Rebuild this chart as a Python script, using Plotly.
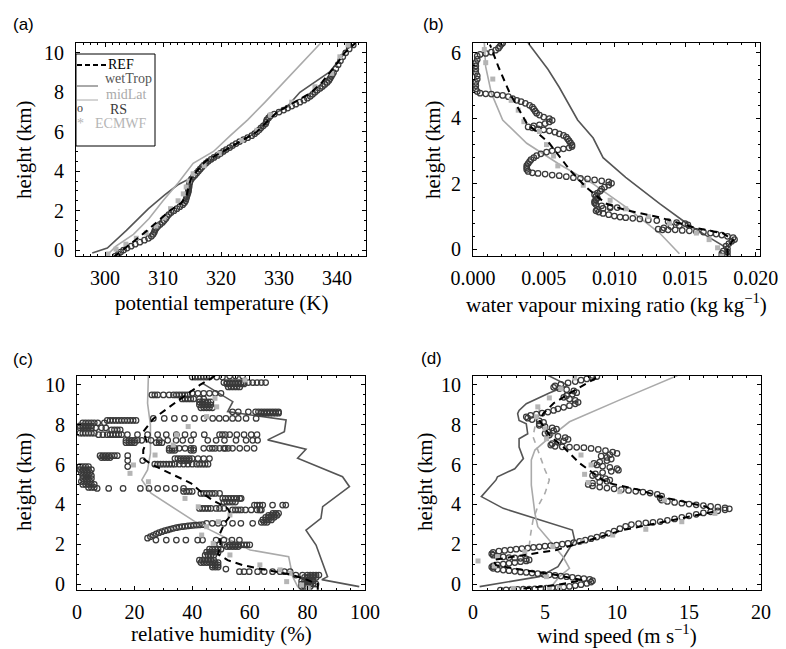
import plotly.graph_objects as go

# the page body has an 8 px margin, so the figure is drawn 8 px in from the window corner
OFF = 8
W, H = 786 - OFF, 649 - OFF


def X(px):
    return (px - OFF) / W


def Y(py):
    return 1 - (py - OFF) / H


# ---------------- panel (a): potential temperature ----------------
REF_a_h = [-0.35, 0.0, 0.5, 1.0, 1.5, 2.0, 2.4, 2.8, 3.2, 3.6, 4.0, 4.5, 5.0, 5.5, 6.0, 6.5, 7.0, 7.5, 8.0, 8.5, 9.0, 9.5, 10.0, 10.5]
REF_a_K = [301.5, 303.1, 305.2, 307.3, 309.3, 311.2, 313.2, 314.1, 314.4, 314.8, 315.8, 317.3, 320.3, 323.2, 326.2, 327.9, 329.7, 332.7, 335.6, 337.4, 338.8, 340.1, 341.3, 343.2]
WET_a_h = [-0.15, 0.1, 1.0, 2.1, 2.8, 3.3, 3.6, 4.2, 5.0, 6.0, 7.0, 7.3, 8.0, 9.05, 9.7, 10.2, 10.5]
WET_a_K = [297.8, 300.4, 303.7, 307.5, 310.3, 312.5, 314.4, 316.6, 320.6, 326.2, 329.7, 331.5, 333.6, 338.8, 340.6, 341.8, 343.2]
MID_a_h = [-0.3, 0.2, 0.8, 1.6, 2.5, 3.4, 4.4, 5.0, 5.8, 6.6, 7.5, 8.5, 9.5, 10.5]
MID_a_K = [300.2, 301.9, 304.9, 307.6, 310.0, 312.6, 315.2, 318.7, 321.6, 324.6, 327.6, 330.8, 334.0, 337.2]
ECM_a_h = [-0.2, 0.05, 0.3, 0.6, 0.87, 1.22, 1.63, 2.1, 2.5, 2.85, 3.2, 3.5, 3.87, 4.28, 4.9, 5.56, 6.07, 6.84, 7.5, 8.28, 8.96, 9.8, 10.4]
ECM_a_K = [300.5, 301.9, 303.6, 305.4, 307.1, 308.8, 310.2, 311.3, 312.6, 313.5, 314.0, 314.5, 315.2, 317.1, 319.7, 323.6, 326.2, 328.5, 332.2, 336.2, 339.1, 340.5, 341.9]
RS_a_h = [-0.3, -0.2, -0.1, 0.0, 0.1, 0.2, 0.3, 0.4, 0.5, 0.6, 0.7, 0.8, 0.9, 1.0, 1.1, 1.2, 1.3, 1.4, 1.5, 1.6,
          1.7, 1.8, 1.9, 2.0, 2.1, 2.2, 2.3, 2.4, 2.5, 2.6, 2.7, 2.8, 2.9, 3.0, 3.1, 3.2, 3.3, 3.4, 3.5, 3.6,
          3.7, 3.8, 3.9, 4.0, 4.1, 4.2, 4.3, 4.4, 4.5, 4.6, 4.7, 4.8, 4.9, 5.0, 5.1, 5.2, 5.3, 5.4, 5.5, 5.6,
          5.7, 5.8, 5.9, 6.0, 6.1, 6.2, 6.3, 6.4, 6.5, 6.6, 6.7, 6.8, 6.9, 7.0, 7.1, 7.2, 7.3, 7.4, 7.5, 7.6,
          7.7, 7.8, 7.9, 8.0, 8.1, 8.2, 8.3, 8.4, 8.5, 8.6, 8.7, 8.8, 8.9, 9.0, 9.2, 9.4, 9.6, 9.8, 10.0, 10.2, 10.4]
RS_a_K = [301.8, 302.3, 302.7, 303.2, 303.8, 304.5, 305.2, 306.0, 306.8, 307.5, 308.0, 308.3, 308.5, 308.6, 308.8, 309.1, 309.5, 309.9, 310.2, 310.5,
          310.7, 311.0, 311.4, 311.9, 312.4, 312.9, 313.4, 313.7, 313.9, 314.0, 314.1, 314.2, 314.3, 314.4, 314.4, 314.5, 314.5, 314.6, 314.7, 314.9,
          315.2, 315.5, 315.8, 316.1, 316.4, 316.7, 317.0, 317.4, 317.8, 318.3, 318.8, 319.4, 319.9, 320.4, 320.9, 321.5, 322.0, 322.6, 323.2, 323.9,
          324.6, 325.3, 325.8, 326.2, 326.6, 326.9, 327.3, 327.7, 327.8, 327.9, 328.2, 328.5, 329.2, 330.0, 330.8, 331.5, 332.2, 332.9, 333.6, 334.3,
          334.9, 335.4, 335.8, 336.2, 336.6, 337.1, 337.5, 337.9, 338.3, 338.6, 338.8, 339.0, 339.2, 339.4, 339.8, 340.2, 340.6, 341.0, 341.5, 342.1, 342.8]

# ---------------- panel (b): water vapour mixing ratio ----------------
REF_b_h = [-0.2, 0.06, 0.28, 0.49, 0.67, 0.98, 1.2, 1.4, 1.9, 2.4, 3.24, 3.85, 4.77, 5.57, 6.25]
REF_b_q = [0.0180, 0.0180, 0.0184, 0.0177, 0.0156, 0.0132, 0.0108, 0.0094, 0.0080, 0.0069, 0.0054, 0.0038, 0.0026, 0.0018, 0.0012]
WET_b_h = [-0.15, 0.06, 0.37, 0.8, 1.4, 2.2, 2.8, 3.4, 3.95, 4.95, 5.5, 6.3]
WET_b_q = [0.0181, 0.0179, 0.0167, 0.0151, 0.0132, 0.0108, 0.0092, 0.0085, 0.0074, 0.0061, 0.0053, 0.0039]
MID_b_h = [-0.13, 0.5, 1.3, 2.0, 2.6, 3.24, 3.95, 4.77, 5.57, 6.3]
MID_b_q = [0.0146, 0.0132, 0.0108, 0.0085, 0.0061, 0.0038, 0.0021, 0.0013, 0.0009, 0.0008]
ECM_b_h = [6.1, 5.7, 5.2, 4.55, 4.25, 3.9, 3.6, 3.2, 2.85, 2.55, 1.96, 1.5, 1.24, 1.0, 0.8, 0.5, 0.3, 0.05, -0.2]
ECM_b_q = [0.0008, 0.0009, 0.0014, 0.0027, 0.0032, 0.0036, 0.0047, 0.0052, 0.0057, 0.0060, 0.0078, 0.0097, 0.0108, 0.0124, 0.0139, 0.0158, 0.0167, 0.0173, 0.0176]
RS_b_points = [
    (0.0176, -0.20), (0.0176, -0.12), (0.0177, -0.05), (0.0180, -0.18), (0.0180, -0.08), (0.0180, 0.02), (0.0179, 0.10),
    (0.0181, 0.18), (0.0183, 0.25), (0.0185, 0.30), (0.0184, 0.36), (0.0180, 0.40), (0.0176, 0.44), (0.0172, 0.47),
    (0.0168, 0.50), (0.0163, 0.53), (0.0158, 0.55), (0.0153, 0.57), (0.0148, 0.58), (0.0143, 0.60), (0.0138, 0.60),
    (0.0134, 0.60), (0.0131, 0.62), (0.0135, 0.66), (0.0140, 0.70), (0.0146, 0.73), (0.0152, 0.75), (0.0150, 0.79),
    (0.0144, 0.82), (0.0138, 0.85), (0.0130, 0.88), (0.0124, 0.90), (0.0118, 0.93), (0.0113, 0.95), (0.0108, 0.97),
    (0.0104, 0.99), (0.0100, 1.02), (0.0096, 1.06), (0.0092, 1.10), (0.0089, 1.14), (0.0087, 1.18), (0.0088, 1.22),
    (0.0092, 1.25), (0.0097, 1.27), (0.0102, 1.28), (0.0097, 1.30), (0.0091, 1.33), (0.0087, 1.37), (0.0086, 1.42),
    (0.0086, 1.47), (0.0087, 1.52), (0.0088, 1.57), (0.0087, 1.62), (0.0086, 1.67), (0.0088, 1.72), (0.0090, 1.78),
    (0.0091, 1.84), (0.0093, 1.90), (0.0096, 1.96), (0.0098, 2.02), (0.0096, 2.06), (0.0091, 2.09), (0.0086, 2.12),
    (0.0081, 2.15), (0.0076, 2.17), (0.0071, 2.19), (0.0066, 2.22), (0.0061, 2.25), (0.0056, 2.27), (0.0051, 2.30),
    (0.0046, 2.32), (0.0042, 2.34), (0.0039, 2.38), (0.0038, 2.44), (0.0038, 2.50), (0.0038, 2.56), (0.0039, 2.62),
    (0.0040, 2.68), (0.0041, 2.74), (0.0043, 2.80), (0.0045, 2.86), (0.0048, 2.92), (0.0052, 2.97), (0.0056, 3.01),
    (0.0060, 3.04), (0.0064, 3.07), (0.0068, 3.10), (0.0070, 3.14), (0.0070, 3.19), (0.0069, 3.25), (0.0068, 3.31),
    (0.0067, 3.37), (0.0066, 3.43), (0.0064, 3.48), (0.0061, 3.53), (0.0058, 3.58), (0.0054, 3.62), (0.0050, 3.65),
    (0.0046, 3.68), (0.0042, 3.71), (0.0039, 3.74), (0.0043, 3.77), (0.0047, 3.80), (0.0051, 3.84), (0.0054, 3.89),
    (0.0056, 3.94), (0.0054, 3.99), (0.0050, 4.04), (0.0047, 4.10), (0.0045, 4.16), (0.0044, 4.22), (0.0043, 4.28),
    (0.0042, 4.34), (0.0040, 4.40), (0.0037, 4.46), (0.0034, 4.51), (0.0031, 4.55), (0.0028, 4.60), (0.0025, 4.66),
    (0.0021, 4.70), (0.0017, 4.72), (0.0013, 4.74), (0.0009, 4.75), (0.0005, 4.77), (0.0003, 4.82), (0.0002, 4.90),
    (0.0002, 5.00), (0.0002, 5.10), (0.0003, 5.20), (0.0003, 5.30), (0.0002, 5.40), (0.0002, 5.50), (0.0002, 5.60),
    (0.0002, 5.70), (0.0003, 5.80), (0.0003, 5.90), (0.0005, 5.95), (0.0009, 5.98), (0.0013, 6.02), (0.0016, 6.08),
    (0.0018, 6.14), (0.0019, 6.20), (0.0020, 6.26), (0.0021, 6.30)]

# ---------------- panel (c): relative humidity ----------------
REF_c_h = [10.45, 10.0, 9.16, 8.3, 7.65, 7.15, 6.73, 6.3, 6.0, 5.5, 5.06, 4.56, 4.22, 3.8, 3.47, 3.05, 2.8, 2.46, 2.04, 1.5, 1.2, 0.95, 0.7, 0.45, 0.2, 0.0, -0.3]
REF_c_rh = [47.9, 42.7, 34.6, 26.5, 23.0, 24.2, 23.0, 23.0, 26.0, 33.0, 39.6, 43.6, 47.0, 52.3, 53.5, 51.2, 50.5, 49.4, 49.8, 49.0, 52.3, 57.5, 66.0, 75.0, 80.0, 83.6, 83.6]
WET_c_h = [10.08, 9.16, 8.66, 8.24, 7.65, 7.24, 6.77, 6.32, 5.39, 4.89, 3.89, 3.3, 2.71, 1.96, 0.37, 0.22, -0.13]
WET_c_rh = [43.6, 54.1, 52.3, 72.6, 72.0, 66.2, 79.5, 76.6, 92.2, 94.6, 85.3, 84.7, 79.5, 83.0, 87.0, 85.0, 98.0]
MID_c_h = [10.5, 9.08, 8.0, 6.57, 5.73, 5.23, 4.56, 2.97, 1.71, 1.37, 0.37, -0.13, -0.3]
MID_c_rh = [24.8, 24.5, 25.5, 25.5, 24.5, 22.5, 25.7, 42.7, 60.1, 73.5, 74.9, 76.6, 78.0]
ECM_c_h = [10.25, 9.33, 8.9, 8.41, 7.91, 7.49, 6.98, 6.48, 5.98, 5.56, 5.14, 4.3, 3.88, 3.47, 3.13, 2.88, 2.46, 2.04, 1.46, 0.96, 0.71, 0.54, 0.12, -0.05, -0.2]
ECM_c_rh = [58.3, 47.9, 48.5, 45.0, 38.6, 34.6, 33.4, 27.1, 19.6, 18.4, 24.8, 37.5, 42.1, 53.1, 49.1, 45.0, 43.3, 47.3, 53.1, 63.5, 70.5, 74.0, 72.8, 78.0, 80.3]
RS_c_rows = [
    (10.40, [40, 41, 42, 43, 44, 45, 46, 48.5, 50.5]),
    (10.45, [53, 55, 57.5]),
    (10.12, [51, 52, 53, 54, 55, 56, 57, 58, 59.5, 61, 62.5, 64, 65.5]),
    (10.05, [52, 53, 54, 55, 56, 57, 58]),
    (9.90, [52.5, 53.5, 54.5, 55.5, 56.5]),
    (9.50, [26, 27, 28, 30, 32, 33.5, 34.5, 35.5, 36.5, 37.5, 38.5]),
    (9.58, [40, 42, 44, 46, 48, 50]),
    (9.30, [36.5, 37.5, 38.5, 39.5, 40.5, 42.5, 44]),
    (9.15, [42.5, 43.5, 44.5, 45.5, 46.5]),
    (9.00, [42.5, 43.5, 44.5, 45.5, 46.5]),
    (8.85, [43, 44, 45, 46, 47]),
    (8.65, [54, 56, 59.5, 62, 63, 64, 65, 66, 67, 68, 69, 70]),
    (8.58, [64, 65, 66, 67, 68, 69, 70]),
    (8.32, [26.5, 30.3, 33.8, 37.3, 40.8, 44.1, 47.1, 49.4, 51.7, 54, 56, 58.7, 62.2]),
    (8.22, [10.5, 11.5, 12.5, 13.5, 14.5, 15.5, 16.5, 17.5, 18.5, 19.5, 20.5]),
    (8.10, [2, 3, 4, 5, 6, 7.2, 9.5]),
    (7.95, [1, 2, 3, 4, 5]),
    (7.85, [1, 2, 3, 4, 5, 6.5, 8.5, 10]),
    (7.75, [12, 13, 14, 15]),
    (7.58, [1, 2, 3, 4, 5, 6]),
    (7.50, [7.5, 9, 10.5, 11.5, 12.5, 13.5, 14.5, 15.5, 17.5, 21, 24.5, 28, 31, 34.5, 37.5, 40.5, 44.2,
            49.5, 50.5, 51.5, 53, 55.5, 58, 60.5, 62.5]),
    (7.22, [17, 18, 19, 20, 21, 22.5, 25.7, 28.6, 31.5, 34.4, 36.7, 39.6, 45.4, 48.3, 51.2, 55.2, 58.7, 61, 62.7]),
    (7.10, [17, 18, 19, 20, 27.5, 28.5, 29.5]),
    (6.82, [32, 33, 34, 35.5, 37.5, 39.5, 40.5, 44, 46, 47, 48, 49.5, 51, 51.5, 52.5, 54, 56.5, 59, 61.5]),
    (6.72, [32, 33, 34, 39.5, 40.5]),
    (6.45, [8, 9, 10, 11, 12, 13, 14, 17.6]),
    (6.35, [8.5, 9.5, 10.5, 11.5]),
    (6.30, [34, 35, 36, 37, 38, 39, 40, 42, 44, 46]),
    (6.20, [17.6, 22.8, 36, 37, 38, 39]),
    (6.02, [27, 28, 29, 30, 31, 32, 33, 34, 35.5, 37, 38.5, 40, 41.5, 42.5, 43.5, 44.5, 45.5]),
    (5.90, [1, 2, 3, 4, 17.6]),
    (5.75, [1, 2, 3, 4, 5]),
    (5.60, [1.5, 2.5, 3.5, 4.5]),
    (5.45, [2, 3, 4, 5]),
    (5.30, [2, 3, 4, 5]),
    (5.15, [1.5, 2.5, 3.5, 4.5]),
    (5.00, [2, 3, 4, 5, 6]),
    (4.85, [4, 5, 6]),
    (4.80, [7, 11, 16, 22, 25, 28, 31, 34, 37]),
    (4.65, [37, 38, 39, 40]),
    (4.55, [43, 44, 45, 46, 47, 48, 49.5]),
    (4.30, [50.6, 51.5, 52.5, 53.5, 54.5, 55.5, 56.5, 57]),
    (4.12, [51, 52, 53, 54, 55]),
    (3.97, [61.6, 62.5, 63.5, 64.5, 67.9, 71.4, 72.5]),
    (3.80, [42.5, 43.5, 44.5, 45.5, 46.5, 48.3, 49.5, 51]),
    (3.72, [54, 55, 56, 57, 58.5, 60.5, 62.5, 63.5, 64]),
    (3.55, [68, 69, 70]),
    (3.45, [66.5, 67.5, 68.5, 69.5]),
    (3.35, [65.5, 66.5, 67.5, 68.5]),
    (3.22, [64.5, 65.5, 66.5, 67.5]),
    (3.10, [64, 65, 66]),
    (3.05, [45, 47, 49, 51, 54, 56.9, 61]),
    (2.21, [27.4, 31, 34.5, 37.8, 41.9, 43.6, 48.3, 51, 53.8, 56.4]),
    (1.97, [49.5, 51, 53, 54, 55, 56, 57, 58, 59, 60]),
    (1.88, [52, 53, 54, 55, 56]),
    (1.75, [46, 47, 48, 49, 50]),
    (1.60, [45, 46, 47, 48, 49]),
    (1.45, [44.5, 45.5, 46.5, 47.5]),
    (1.20, [42.5, 43.5, 44.5, 45.5, 46.5, 47.5]),
    (1.08, [43, 44, 45, 46, 47, 48, 49]),
    (0.95, [47, 48, 49]),
    (0.85, [47, 48, 49]),
    (0.75, [51.7]),
    (0.62, [56.4, 58, 59.8, 62.7, 65, 67.9, 70.5, 72, 74]),
    (0.45, [76, 78.3, 80, 81, 82, 83, 84]),
    (0.33, [79, 80, 81, 82, 83]),
    (0.15, [78, 79, 80, 81, 82]),
    (0.00, [78, 79, 80, 81, 82, 83]),
    (-0.12, [78, 79, 80, 81]),
]
RS_c_arc_rh = [24.5, 25.5, 26.5, 27.5, 28.5, 29.5, 30.5, 31.5, 32.5, 33.5, 34.5, 35.5, 36.5, 37.5, 38.5, 39.5, 40.5, 41.5, 42.5, 43.6]
RS_c_arc_h = [2.30, 2.38, 2.45, 2.52, 2.58, 2.63, 2.68, 2.72, 2.76, 2.80, 2.83, 2.86, 2.88, 2.90, 2.92, 2.94, 2.95, 2.96, 2.97, 2.98]

# ---------------- panel (d): wind speed ----------------
REF_d_h = [-0.22, -0.05, 0.2, 0.45, 0.7, 0.95, 1.21, 1.46, 1.71, 2.21, 2.71, 3.22, 3.63, 3.89, 4.39, 4.72, 5.06, 5.23, 6.07, 6.9, 7.4, 7.82, 8.24, 8.58, 9.08, 9.58, 10.42]
REF_d_ws = [3.5, 5.8, 7.6, 5.8, 3.5, 1.6, 1.4, 3.5, 5.8, 8.1, 10.4, 13.9, 16.7, 16.2, 13.0, 11.6, 9.5, 9.0, 7.4, 6.25, 5.4, 5.0, 4.6, 4.9, 5.6, 6.7, 8.7]
WET_d_h = [-0.13, 0.37, 0.87, 2.21, 2.71, 3.8, 4.39, 5.23, 5.39, 5.79, 6.3, 6.88, 7.3, 7.55, 8.05, 8.22, 8.56, 8.72, 9.06, 9.6, 9.98, 10.52]
WET_d_ws = [0.46, 4.6, 5.9, 7.06, 6.9, 2.1, 0.58, 1.6, 1.7, 2.9, 3.5, 3.2, 3.2, 3.8, 3.7, 3.2, 3.1, 3.2, 3.7, 5.3, 6.6, 5.1]
MID_d_h = [-0.25, 0.37, 0.79, 1.37, 2.2, 2.88, 3.55, 4.97, 6.23, 6.73, 7.23, 8.15, 9.25, 10.47]
MID_d_ws = [5.3, 6.0, 6.7, 6.25, 5.3, 4.5, 4.3, 4.05, 4.05, 4.3, 5.1, 6.7, 10.2, 14.2]
DASH_d_h = [1.88, 2.5, 3.22, 3.89, 4.56, 5.23, 5.73, 6.23, 6.9, 7.4, 7.9, 8.24, 8.83]
DASH_d_ws = [3.9, 4.0, 4.17, 4.5, 5.0, 5.3, 5.0, 4.75, 4.4, 4.17, 4.3, 4.4, 4.63]
ECM_d_h = [10.35, 9.81, 9.35, 8.9, 8.4, 7.8, 7.3, 6.48, 5.98, 5.51, 5.1, 4.64, 4.22, 3.55, 3.13, 2.75, 2.46, 2.13, 1.88, 1.62, 1.37, 1.16, 0.9, 0.37, -0.17, -0.17, -0.22]
ECM_d_ws = [7.06, 6.1, 5.3, 4.5, 4.4, 5.0, 5.1, 7.5, 8.2, 7.75, 8.0, 10.2, 13.3, 16.8, 14.5, 12.0, 9.7, 7.6, 5.55, 3.6, 1.7, 0.35, 1.5, 5.1, 6.0, 5.3, 2.8]
RS_d_points = [
    (1.9, -0.30), (2.3, -0.29), (2.7, -0.28), (3.1, -0.27), (3.5, -0.26), (3.9, -0.25), (4.3, -0.24), (4.7, -0.22),
    (5.1, -0.21), (5.5, -0.19), (5.9, -0.17), (6.3, -0.15), (6.7, -0.12), (7.1, -0.08), (7.5, -0.03), (7.9, 0.03),
    (8.2, 0.10), (8.3, 0.17), (8.1, 0.23), (7.7, 0.27), (7.3, 0.30), (6.9, 0.34), (6.5, 0.37), (6.1, 0.40),
    (5.7, 0.43), (5.3, 0.46), (4.9, 0.49), (4.5, 0.52), (4.1, 0.55), (3.7, 0.58), (3.3, 0.61), (2.9, 0.64),
    (2.5, 0.67), (2.1, 0.70), (1.7, 0.74), (1.4, 0.79), (1.3, 0.85), (1.4, 0.91), (1.7, 0.96), (2.1, 1.00),
    (2.5, 1.04), (2.9, 1.08), (3.3, 1.12), (3.7, 1.16), (3.9, 1.21), (3.7, 1.26), (3.3, 1.29), (2.9, 1.31),
    (2.5, 1.33), (2.1, 1.36), (1.7, 1.40), (1.4, 1.45), (1.3, 1.52), (1.4, 1.59), (1.8, 1.65), (2.2, 1.69),
    (2.6, 1.72), (3.0, 1.75), (3.4, 1.78), (3.8, 1.81), (4.2, 1.84), (4.6, 1.87), (5.0, 1.90), (5.4, 1.93),
    (5.8, 1.96), (6.2, 2.00), (6.6, 2.04), (7.0, 2.08), (7.4, 2.14), (7.8, 2.20), (8.2, 2.28), (8.6, 2.36),
    (9.0, 2.45), (9.4, 2.55), (9.8, 2.66), (10.2, 2.78), (10.6, 2.90), (11.0, 2.99), (11.5, 3.04), (12.0, 3.07),
    (12.5, 3.10), (13.0, 3.14), (13.5, 3.20), (14.0, 3.27), (14.5, 3.35), (15.0, 3.43), (15.5, 3.50), (16.0, 3.57),
    (16.5, 3.63), (17.0, 3.68), (17.5, 3.73), (17.8, 3.78), (17.5, 3.83), (17.0, 3.86), (16.5, 3.90), (16.0, 3.94),
    (15.5, 3.98), (15.0, 4.02), (14.5, 4.06), (14.0, 4.10), (13.5, 4.15), (13.1, 4.22), (13.0, 4.32), (13.1, 4.42),
    (12.8, 4.50), (12.3, 4.57), (11.8, 4.62), (11.3, 4.66), (10.8, 4.70), (10.3, 4.74), (9.8, 4.78), (9.3, 4.82),
    (8.8, 4.87), (8.3, 4.93), (8.0, 5.00), (8.3, 5.07), (8.8, 5.12), (9.3, 5.16), (9.5, 5.22), (9.2, 5.30),
    (8.7, 5.37), (8.3, 5.45), (8.5, 5.53), (9.0, 5.60), (9.6, 5.66), (10.1, 5.72), (10.0, 5.80), (9.5, 5.86),
    (9.0, 5.92), (8.6, 5.98), (8.4, 6.06), (8.8, 6.13), (9.3, 6.20), (9.6, 6.28), (9.3, 6.36), (8.9, 6.42),
    (9.5, 6.50), (10.0, 6.56), (9.7, 6.63), (9.2, 6.70), (8.7, 6.76), (8.2, 6.81), (7.7, 6.85), (7.2, 6.87),
    (6.7, 6.88), (6.2, 6.89), (5.7, 6.92), (5.4, 6.98), (5.5, 7.05), (5.9, 7.12), (6.3, 7.19), (6.6, 7.27),
    (6.4, 7.35), (5.9, 7.42), (5.3, 7.48), (5.0, 7.56), (5.2, 7.64), (5.6, 7.71), (5.8, 7.78), (5.5, 7.85),
    (5.0, 7.91), (4.6, 7.97), (4.6, 8.05), (4.9, 8.12), (4.6, 8.19), (4.1, 8.26), (3.8, 8.33), (3.7, 8.40),
    (4.0, 8.47), (4.4, 8.53), (4.8, 8.58), (5.2, 8.64), (5.6, 8.72), (5.9, 8.80), (6.3, 8.88), (6.7, 8.96),
    (7.1, 9.05), (7.3, 9.13), (7.1, 9.22), (6.7, 9.30), (6.3, 9.38), (6.5, 9.46), (6.9, 9.53), (7.2, 9.61),
    (7.0, 9.70), (6.5, 9.76), (6.0, 9.82), (5.6, 9.88), (5.7, 9.96), (6.1, 10.03), (6.6, 10.10), (7.1, 10.17),
    (7.5, 10.24), (7.9, 10.30), (8.3, 10.36), (8.6, 10.42), (8.3, 10.48)]

# ---------------- styling ----------------
C_REF = "black"
C_WET = "#555555"
C_MID = "#aaaaaa"
C_RS = "#3a3a3a"
C_ECM = "#b5b5b5"
SERIF = "Liberation Serif, Times New Roman, Times, DejaVu Serif, serif"
SANS = "Liberation Sans, Arial, Helvetica, sans-serif"

fig = go.Figure()


def add_panel(ax, ref, wet, mid, rs, ecm, extra=None):
    xa = "x" if ax == 1 else "x%d" % ax
    ya = "y" if ax == 1 else "y%d" % ax
    fig.add_trace(go.Scatter(x=wet[0], y=wet[1], mode="lines", line=dict(color=C_WET, width=1.6),
                             xaxis=xa, yaxis=ya, showlegend=False))
    fig.add_trace(go.Scatter(x=mid[0], y=mid[1], mode="lines", line=dict(color=C_MID, width=1.6),
                             xaxis=xa, yaxis=ya, showlegend=False))
    if extra is not None:
        fig.add_trace(go.Scatter(x=extra[0], y=extra[1], mode="lines",
                                 line=dict(color=C_MID, width=1.6, dash="6px,5px"),
                                 xaxis=xa, yaxis=ya, showlegend=False))
    fig.add_trace(go.Scatter(x=rs[0], y=rs[1], mode="markers",
                             marker=dict(symbol="circle-open", size=5.5, color=C_RS, line=dict(width=1.25)),
                             xaxis=xa, yaxis=ya, showlegend=False))
    fig.add_trace(go.Scatter(x=ecm[0], y=ecm[1], mode="markers",
                             marker=dict(symbol="square", size=5, color=C_ECM),
                             xaxis=xa, yaxis=ya, showlegend=False))
    fig.add_trace(go.Scatter(x=ref[0], y=ref[1], mode="lines",
                             line=dict(color=C_REF, width=2, dash="7px,5px"),
                             xaxis=xa, yaxis=ya, showlegend=False))


add_panel(1, (REF_a_K, REF_a_h), (WET_a_K, WET_a_h), (MID_a_K, MID_a_h), (RS_a_K, RS_a_h), (ECM_a_K, ECM_a_h))
add_panel(2, (REF_b_q, REF_b_h), (WET_b_q, WET_b_h), (MID_b_q, MID_b_h),
          ([p[0] for p in RS_b_points], [p[1] for p in RS_b_points]), (ECM_b_q, ECM_b_h))
rs_c_rh = [v for h, row in RS_c_rows for v in row] + RS_c_arc_rh
rs_c_h = [h for h, row in RS_c_rows for v in row] + RS_c_arc_h
add_panel(3, (REF_c_rh, REF_c_h), (WET_c_rh, WET_c_h), (MID_c_rh, MID_c_h), (rs_c_rh, rs_c_h), (ECM_c_rh, ECM_c_h))
add_panel(4, (REF_d_ws, REF_d_h), (WET_d_ws, WET_d_h), (MID_d_ws, MID_d_h),
          ([p[0] for p in RS_d_points], [p[1] for p in RS_d_points]), (ECM_d_ws, ECM_d_h),
          extra=(DASH_d_ws, DASH_d_h))


def axis(domain, rng, minor_dtick, anchor, tickvals, tickformat=None, standoff=5):
    d = dict(domain=domain, range=rng, anchor=anchor, automargin=False,
             showline=True, linecolor="black", linewidth=1,
             mirror="ticks", ticks="inside", ticklen=4, tickwidth=1, tickcolor="black",
             showgrid=False, zeroline=False,
             tickfont=dict(family=SERIF, size=20, color="black"),
             minor=dict(ticks="inside", ticklen=2, tickwidth=1, tickcolor="black", dtick=minor_dtick, showgrid=False),
             ticklabelstandoff=standoff, tickmode="array", tickvals=tickvals)
    if tickformat:
        d["tickformat"] = tickformat
    return d


top = [Y(256), Y(43)]
bot = [Y(590), Y(376)]
fig.update_layout(
    template="none",
    width=W, height=H, margin=dict(l=0, r=0, t=0, b=0, autoexpand=False),
    paper_bgcolor="white", plot_bgcolor="white", showlegend=False,
    font=dict(family=SERIF, size=20, color="black"),
    xaxis=axis([X(76), X(366)], [295, 345], 1.25, "y", [300, 310, 320, 330, 340], standoff=4),
    yaxis=axis(top, [-0.3, 10.5], 0.5, "x", [0, 2, 4, 6, 8, 10], standoff=7),
    xaxis2=axis([X(473), X(760)], [0, 0.0203], 0.001, "y2", [0, 0.005, 0.01, 0.015, 0.02], tickformat=".3f", standoff=4),
    yaxis2=axis(top, [-0.2, 6.3], 0.4, "x2", [0, 2, 4, 6], standoff=7),
    xaxis3=axis([X(77), X(365)], [0, 100], 5, "y3", [0, 20, 40, 60, 80, 100], standoff=4),
    yaxis3=axis(bot, [-0.3, 10.45], 0.5, "x3", [0, 2, 4, 6, 8, 10], standoff=7),
    xaxis4=axis([X(473), X(761)], [0, 20], 1, "y4", [0, 5, 10, 15, 20], standoff=4),
    yaxis4=axis(bot, [-0.3, 10.45], 0.5, "x4", [0, 2, 4, 6, 8, 10], standoff=7),
)

ann = []


def text(x, y, s, size=21, color="black", family=SERIF, angle=0, xanchor="center"):
    ann.append(dict(x=X(x), y=Y(y), xref="paper", yref="paper", text=s, showarrow=False,
                    font=dict(family=family, size=size, color=color), textangle=angle,
                    xanchor=xanchor, yanchor="middle"))


# axis titles
text(221, 303, "potential temperature (K)")
text(616, 303, "water vapour mixing ratio (kg kg<sup>−1</sup>)")
text(221, 634, "relative humidity (%)")
text(617, 634, "wind speed (m s<sup>−1</sup>)")
for (xx, yy) in [(24, 150), (433, 150), (24, 482), (425, 482)]:
    text(xx, yy, "height (km)", angle=-90)
# panel labels
for (xx, yy, s) in [(23, 25, "(a)"), (433, 24, "(b)"), (23, 359, "(c)"), (432, 358, "(d)")]:
    text(xx, yy, s, size=17, family=SANS)

# legend (panel a)
text(121, 64, "REF", size=14, color=C_REF)
text(128, 79, "wetTrop", size=14, color=C_WET)
text(126, 94, "midLat", size=14, color=C_MID)
text(80, 108, "o", size=12, color=C_RS)
text(118, 109, "RS", size=14, color=C_RS)
text(80, 123, "*", size=14, color=C_ECM)
text(121, 124, "ECMWF", size=14, color=C_ECM)
fig.update_layout(annotations=ann)

shapes = [
    dict(type="rect", xref="paper", yref="paper", x0=X(76), x1=X(155), y0=Y(146), y1=Y(54),
         line=dict(color="black", width=1), fillcolor="white", layer="above"),
    dict(type="line", xref="paper", yref="paper", x0=X(77), x1=X(106), y0=Y(65), y1=Y(65),
         line=dict(color=C_REF, width=2, dash="5px,3px")),
    dict(type="line", xref="paper", yref="paper", x0=X(77), x1=X(98), y0=Y(86), y1=Y(86),
         line=dict(color=C_WET, width=1)),
    dict(type="line", xref="paper", yref="paper", x0=X(77), x1=X(98), y0=Y(100), y1=Y(100),
         line=dict(color=C_MID, width=1)),
]
fig.update_layout(shapes=shapes)

fig.write_html("out.html")
